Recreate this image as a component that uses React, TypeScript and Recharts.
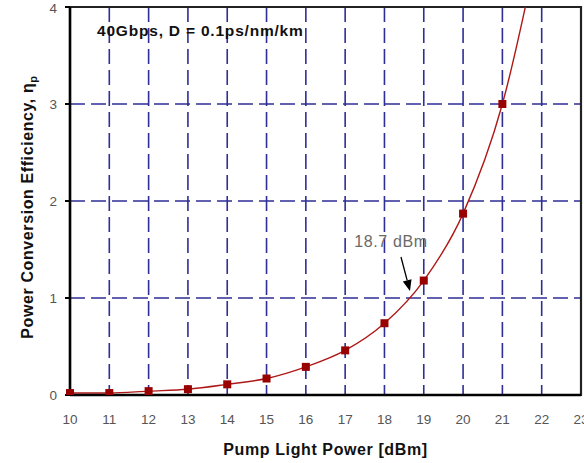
import React from 'react';
import {
  LineChart,
  Line,
  XAxis,
  YAxis,
  CartesianGrid,
  ReferenceArea,
  ReferenceDot,
  Label,
} from 'recharts';

// Pump light power (dBm) and the measured power conversion efficiency
const pumpPower = [10, 11, 12, 13, 14, 15, 16, 17, 18, 19, 20, 21, 22];
const efficiency = [0.02, 0.02, 0.04, 0.06, 0.11, 0.17, 0.29, 0.46, 0.74, 1.18, 1.87, 3.0, 4.8];

const xTicks = [10, 11, 12, 13, 14, 15, 16, 17, 18, 19, 20, 21, 22, 23];
const yTicks = [0, 1, 2, 3, 4];

const thresholdPower = 18.7;
const thresholdEfficiency = 1;

const data = pumpPower.map((p, i) => ({ power: p, eta: efficiency[i] }));

const FONT = '"Liberation Sans", Arial, Helvetica, sans-serif';
const Y_MAX = 4;

const SquareDot = (props: any) => {
  const { cx, cy, payload, index } = props;
  if (cx == null || cy == null || payload.eta > Y_MAX) return <g key={`d-${index}`} />;
  return <rect key={`d-${index}`} x={cx - 4} y={cy - 4} width={8} height={8} fill="#990000" />;
};

const ArrowNote = (props: any) => {
  const { cx, cy } = props;
  const sx = cx - 11;
  const sy = cy - 41;
  const tx = cx - 2;
  const ty = cy - 7;
  const dx = tx - sx;
  const dy = ty - sy;
  const len = Math.hypot(dx, dy);
  const ux = dx / len;
  const uy = dy / len;
  const bx = tx - ux * 11;
  const by = ty - uy * 11;
  const px = -uy * 4.5;
  const py = ux * 4.5;
  return (
    <g>
      <text
        x={cx - 21}
        y={cy - 51}
        textAnchor="middle"
        fontFamily={FONT}
        fontSize={16}
        letterSpacing={0.6}
        fill="#6a6a6a"
      >
        {`${thresholdPower} dBm`}
      </text>
      <line x1={sx} y1={sy} x2={bx} y2={by} stroke="#000" strokeWidth={1.3} />
      <polygon points={`${tx},${ty} ${bx + px},${by + py} ${bx - px},${by - py}`} fill="#000" />
    </g>
  );
};

const YLabel = (props: any) => {
  const { viewBox } = props;
  const x = viewBox.x + 33;
  const y = viewBox.y + viewBox.height / 2 + 6;
  return (
    <text
      x={x}
      y={y}
      transform={`rotate(-90, ${x}, ${y})`}
      textAnchor="middle"
      fontFamily={FONT}
      fontSize={16}
      fontWeight="bold"
      letterSpacing={0.6}
      fill="#111"
    >
      Power Conversion Efficiency, η
      <tspan dy={4} fontSize={11}>p</tspan>
    </text>
  );
};

export default function App() {
  return (
    <div style={{ position: 'absolute', left: 0, top: 0, width: 584, height: 463, background: '#fff' }}>
      <LineChart
        width={584}
        height={463}
        data={data}
        margin={{ top: 7, right: 3, bottom: 0, left: 0 }}
      >
        <CartesianGrid
          stroke="#2e2e96"
          strokeWidth={1.6}
          strokeDasharray="15 6"
          horizontalValues={[1, 2, 3]}
          verticalValues={[11, 12, 13, 14, 15, 16, 17, 18, 19, 20, 21, 22]}
        />
        <ReferenceArea
          x1={10}
          x2={23}
          y1={0}
          y2={Y_MAX}
          fill="none"
          stroke="#222"
          strokeWidth={2.2}
          ifOverflow="visible"
        />
        <XAxis
          dataKey="power"
          type="number"
          domain={[10, 23]}
          ticks={xTicks}
          interval={0}
          height={68}
          tickLine={false}
          tickMargin={13}
          axisLine={{ stroke: '#000', strokeWidth: 2.5 }}
          tick={{ fontFamily: FONT, fontSize: 13.5, fill: '#555' }}
        >
          <Label
            value="Pump Light Power [dBm]"
            position="insideBottom"
            offset={8}
            style={{ fontFamily: FONT, fontSize: 16, fontWeight: 'bold', fill: '#111', letterSpacing: 0.6 }}
          />
        </XAxis>
        <YAxis
          type="number"
          domain={[0, Y_MAX]}
          ticks={yTicks}
          allowDataOverflow
          width={70}
          tickSize={5}
          tickMargin={8}
          tickLine={{ stroke: '#000', strokeWidth: 2 }}
          axisLine={{ stroke: '#000', strokeWidth: 2.5 }}
          tick={{ fontFamily: FONT, fontSize: 13.5, fill: '#555' }}
        >
          <Label content={<YLabel />} />
        </YAxis>
        <Line
          type="monotone"
          dataKey="eta"
          stroke="#b01818"
          strokeWidth={1.4}
          dot={<SquareDot />}
          activeDot={false}
          isAnimationActive={false}
        />
        <ReferenceDot
          x={thresholdPower}
          y={thresholdEfficiency}
          r={0}
          shape={<ArrowNote />}
          ifOverflow="visible"
        />
        <text
          x={97}
          y={36}
          fontFamily={FONT}
          fontSize={15.5}
          fontWeight="bold"
          letterSpacing={0.8}
          fill="#111"
        >
          40Gbps, D = 0.1ps/nm/km
        </text>
      </LineChart>
    </div>
  );
}
